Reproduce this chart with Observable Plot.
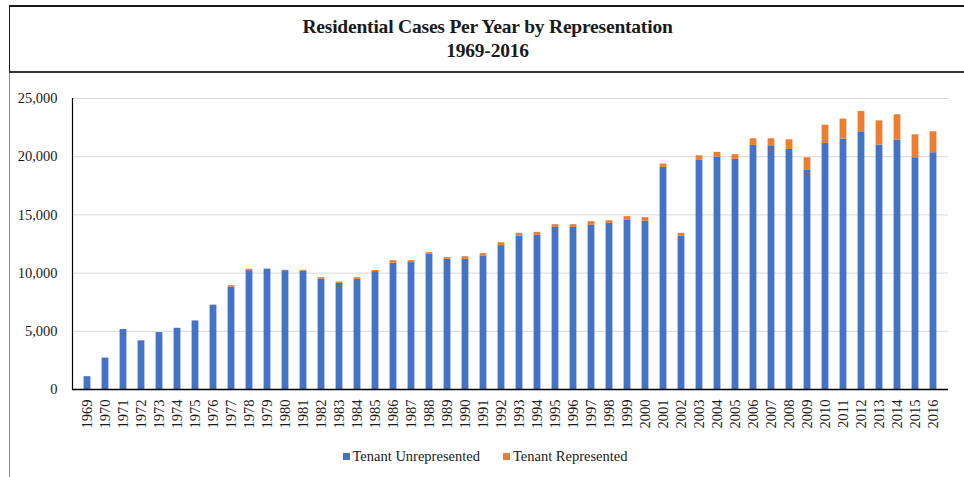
<!DOCTYPE html>
<html>
<head>
<meta charset="utf-8">
<script src="https://cdn.jsdelivr.net/npm/d3@7"></script>
<script src="https://cdn.jsdelivr.net/npm/@observablehq/plot@0.6"></script>
<style>
  html, body { margin: 0; padding: 0; background: #fff; }
  #wrap { position: relative; width: 964px; height: 477px; overflow: hidden; font-family: "Liberation Serif", "Times New Roman", serif; color: #1a1a1a; }
  #titlebox { position: absolute; left: 9px; top: 5px; width: 955px; height: 64px; border-top: 2px solid #1a1a1a; border-left: 1.5px solid #1a1a1a; border-bottom: 2px solid #333; box-sizing: content-box; }
  #titlebox .t { position: absolute; left: 0; right: 0; text-align: center; font-weight: bold; font-size: 19.5px; line-height: 22px; letter-spacing: -0.2px; }
  #leftline { position: absolute; left: 9px; top: 73px; height: 404px; border-left: 1.5px solid #8a8a8a; }
  #chart { position: absolute; left: 0; top: 72px; }
  #legend { position: absolute; left: 3px; width: 964px; top: 448px; display: flex; justify-content: center; gap: 23px; font-size: 14.5px; }
  #legend .item { display: flex; align-items: center; gap: 3px; }
  #legend .sw { width: 7px; height: 7px; display: inline-block; }
</style>
</head>
<body>
<div id="wrap">
  <div id="titlebox">
    <div class="t" style="top:9px">Residential Cases Per Year by Representation</div>
    <div class="t" style="top:33px">1969-2016</div>
  </div>
  <div id="leftline"></div>
  <div id="chart"></div>
  <div id="legend"></div>
</div>
<script>
const years = ["1969","1970","1971","1972","1973","1974","1975","1976","1977","1978","1979","1980","1981","1982","1983","1984","1985","1986","1987","1988","1989","1990","1991","1992","1993","1994","1995","1996","1997","1998","1999","2000","2001","2002","2003","2004","2005","2006","2007","2008","2009","2010","2011","2012","2013","2014","2015","2016"];
const unrepresented = [1100,2700,5150,4180,4890,5260,5890,7240,8810,10210,10330,10210,10150,9500,9120,9470,10130,10840,10900,11610,11180,11180,11440,12360,13160,13240,13930,13930,14100,14270,14530,14450,19080,13190,19680,19970,19770,20970,20880,20620,18820,21140,21510,22140,21000,21420,19910,20340];
const represented = [0,0,0,0,0,0,0,20,110,120,30,30,90,110,110,140,90,230,170,150,150,230,230,250,260,260,230,230,320,230,320,310,290,230,400,400,400,570,660,830,1090,1570,1720,1740,2080,2180,1970,1800];
const seriesNames = ["Tenant Unrepresented", "Tenant Represented"];
const seriesColors = ["#4472C4", "#ED7D31"];
const yTicks = [0, 5000, 10000, 15000, 20000, 25000];

const data = [
  ...years.map((y, i) => ({year: y, series: seriesNames[0], value: unrepresented[i]})),
  ...years.map((y, i) => ({year: y, series: seriesNames[1], value: represented[i]}))
];

const chart = Plot.plot({
  width: 964,
  height: 373,
  marginTop: 26,
  marginBottom: 56,
  marginLeft: 72,
  marginRight: 16,
  style: {fontFamily: "'Liberation Serif', 'Times New Roman', serif", fontSize: "14.5px", color: "#1a1a1a", background: "transparent"},
  x: {domain: years, padding: 0, label: null},
  y: {domain: [0, 25000], label: null},
  color: {domain: seriesNames, range: seriesColors},
  marks: [
    Plot.gridY(yTicks, {stroke: "#d9d9d9", strokeOpacity: 1, strokeWidth: 1}),
    Plot.axisY(yTicks, {tickFormat: d3.format(","), tickSize: 0, tickPadding: 15, label: null, fontSize: 14.5}),
    Plot.axisX({tickRotate: -90, tickSize: 0, tickPadding: 10, label: null, fontSize: 14.5}),
    Plot.barY(data, {x: "year", y: "value", fill: "series", insetLeft: 5.6, insetRight: 5.6}),
    Plot.ruleY([0], {stroke: "#000", strokeWidth: 1.5}),
    Plot.frame({anchor: "left", stroke: "#000", strokeWidth: 1.2})
  ]
});
document.getElementById("chart").appendChild(chart);

const legend = document.getElementById("legend");
seriesNames.forEach((name, i) => {
  const item = document.createElement("div");
  item.className = "item";
  const sw = document.createElement("span");
  sw.className = "sw";
  sw.style.background = seriesColors[i];
  const label = document.createElement("span");
  label.textContent = name;
  item.appendChild(sw);
  item.appendChild(label);
  legend.appendChild(item);
});
</script>
</body>
</html>
